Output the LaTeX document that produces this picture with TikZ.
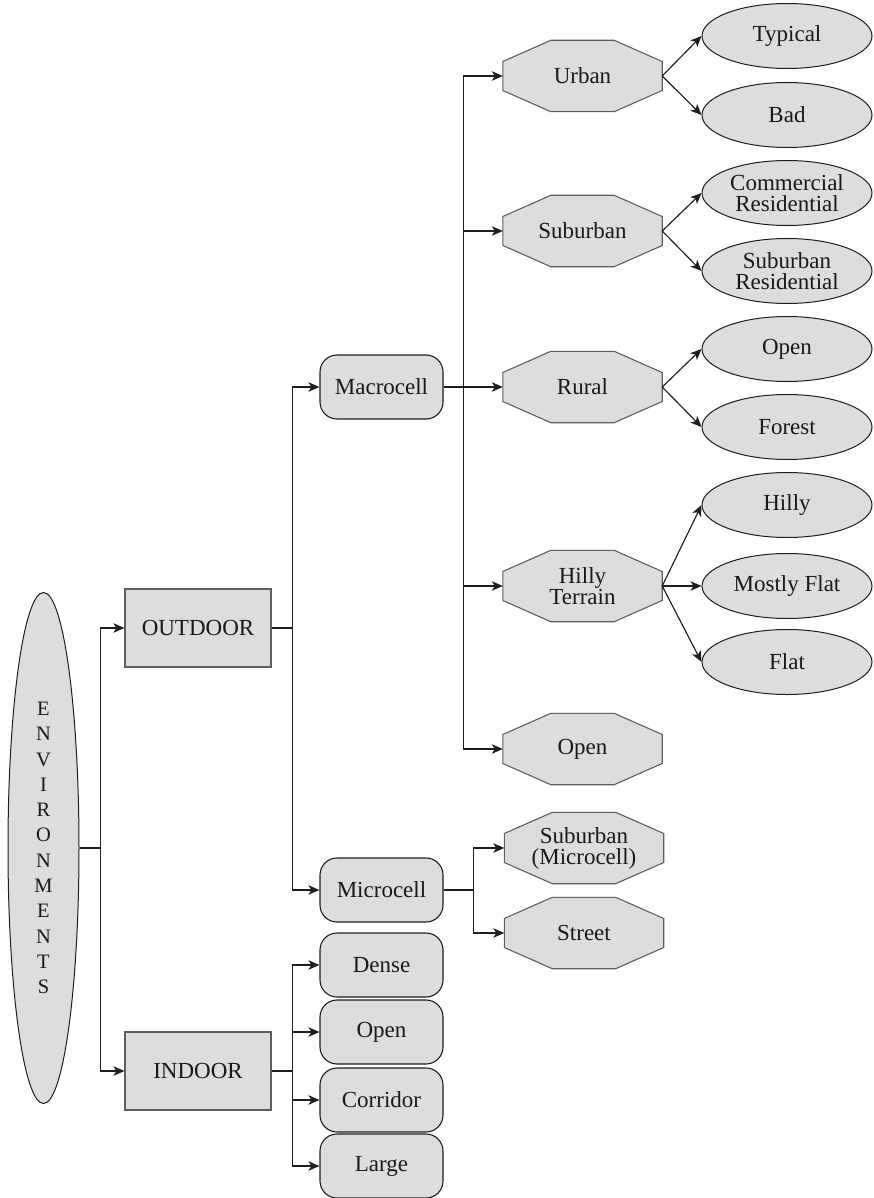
\documentclass[tikz,border=0pt]{standalone}
\usepackage{fontspec}
\setmainfont{Liberation Serif}
\usetikzlibrary{shapes.geometric,arrows.meta,calc,backgrounds}
\definecolor{boxfill}{HTML}{DCDDDF}
\definecolor{linecol}{HTML}{1E1E1E}
\definecolor{edgegray}{HTML}{5E5E5E}
\begin{document}
\begin{tikzpicture}[x=1pt,y=-1pt,
  lab/.style={font=\fontsize{23}{21}\selectfont, align=center, inner sep=0pt, text=black!90},
  sqbox/.style={lab, rectangle, draw=edgegray, fill=boxfill, line width=1.2pt, minimum width=146pt, minimum height=78pt},
  rbox/.style={lab, rectangle, draw=linecol, fill=boxfill, line width=1.1pt, rounded corners=17pt, minimum width=123pt, minimum height=64pt},
  oct/.style={lab, rectangle, minimum width=159pt, minimum height=71pt},
  octline/.style={draw=edgegray, fill=boxfill, line width=1.1pt, line join=miter},
  ell/.style={lab, ellipse, draw=linecol, fill=boxfill, line width=1pt, minimum width=170pt, minimum height=65pt},
  conn/.style={draw=linecol, line width=1.15pt},
  arr/.style={conn, -{Stealth[length=11pt,width=9.5pt,inset=3pt]}},
]
\useasboundingbox (0,0) rectangle (874,1198);

% root
\node[ellipse, draw=linecol, fill=boxfill, line width=1pt, minimum width=71pt, minimum height=511pt, inner sep=0pt,
      font=\fontsize{20.5}{25.3}\selectfont, align=center, text=black!90] (env) at (43.5,848)
      {E\\N\\V\\I\\R\\O\\N\\M\\E\\N\\T\\S};

% level 1
\node[sqbox] (out) at (198,628) {OUTDOOR};
\node[sqbox] (in) at (198,1071) {INDOOR};

% level 2
\node[rbox] (macro) at (381.5,387) {Macrocell};
\node[rbox] (micro) at (381.5,890) {Microcell};
\node[rbox] (dense) at (381.5,965) {Dense};
\node[rbox] (iopen) at (381.5,1032) {Open};
\node[rbox] (corr) at (381.5,1100) {Corridor};
\node[rbox] (large) at (381.5,1166) {Large};

% level 3 (octagons)
\node[oct] (urban) at (582.5,76) {Urban};
\node[oct] (suburb) at (582.5,231) {Suburban};
\node[oct] (rural) at (582.5,387) {Rural};
\node[oct] (hilly) at (582.5,586) {Hilly\\Terrain};
\node[oct] (mopen) at (582.5,749) {Open};
\node[oct] (submic) at (584,848) {Suburban\\(Microcell)};
\node[oct] (street) at (584,933) {Street};

\begin{scope}[on background layer]
\foreach \n in {urban,suburb,rural,hilly,mopen,submic,street}
  \path[octline] ($(\n.west)+(0,-14.5)$) -- ($(\n.north west)+(48,0)$) -- ($(\n.north east)+(-48,0)$)
     -- ($(\n.east)+(0,-14.5)$) -- ($(\n.east)+(0,14.5)$) -- ($(\n.south east)+(-48,0)$)
     -- ($(\n.south west)+(48,0)$) -- ($(\n.west)+(0,14.5)$) -- cycle;
\end{scope}

% level 4 (ellipses)
\node[ell] (typical) at (787,36) {Typical};
\node[ell] (bad) at (787,115) {Bad};
\node[ell] (comres) at (787,193) {Commercial\\Residential};
\node[ell] (subres) at (787,271) {Suburban\\Residential};
\node[ell] (ropen) at (787,349) {Open};
\node[ell] (forest) at (787,427) {Forest};
\node[ell] (hillye) at (787,505) {Hilly};
\node[ell] (mostly) at (787,586) {Mostly Flat};
\node[ell] (flat) at (787,662) {Flat};

% connectors
\draw[arr] (env.east) -- ++(21,0) |- (out.west);
\draw[arr] (env.east) -- ++(21,0) |- (in.west);

\draw[arr] (out.east) -- ++(21,0) |- (macro.west);
\draw[arr] (out.east) -- ++(21,0) |- (micro.west);

\foreach \t in {dense,iopen,corr,large}
  \draw[arr] (in.east) -- ++(21,0) |- (\t.west);

\foreach \t in {urban,suburb,rural,hilly,mopen}
  \draw[arr] (macro.east) -- ++(20,0) |- (\t.west);

\foreach \t in {submic,street}
  \draw[arr] (micro.east) -- ++(30,0) |- (\t.west);

\draw[arr] (urban.east) -- (typical.west);
\draw[arr] (urban.east) -- (bad.west);
\draw[arr] (suburb.east) -- (comres.west);
\draw[arr] (suburb.east) -- (subres.west);
\draw[arr] (rural.east) -- (ropen.west);
\draw[arr] (rural.east) -- (forest.west);
\draw[arr] (hilly.east) -- (hillye.west);
\draw[arr] (hilly.east) -- (mostly.west);
\draw[arr] (hilly.east) -- (flat.west);
\end{tikzpicture}
\end{document}
